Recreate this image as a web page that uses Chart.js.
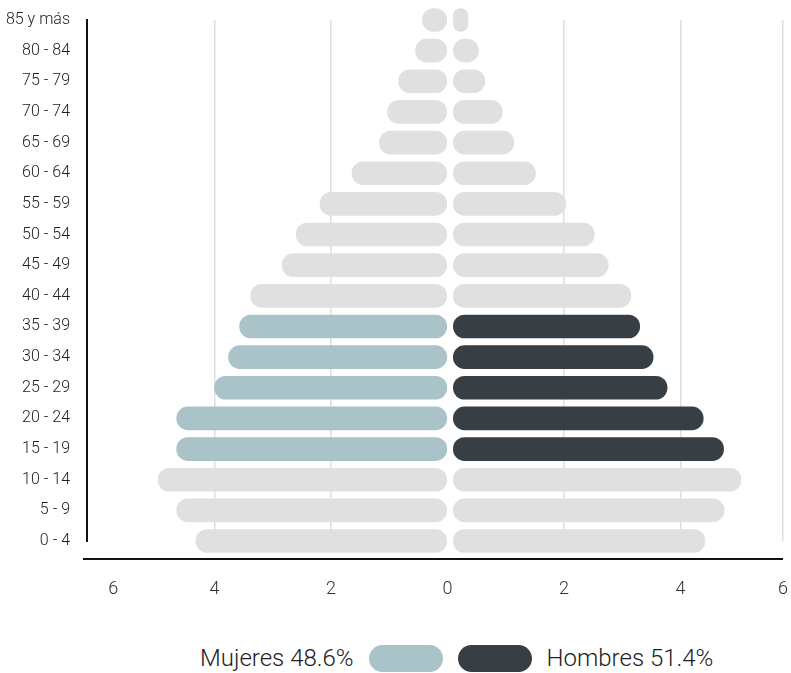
<!DOCTYPE html>
<html>
<head>
<meta charset="utf-8">
<script src="https://cdn.jsdelivr.net/npm/chart.js@4/dist/chart.umd.min.js"></script>
<style>
  html, body { margin: 0; padding: 0; background: #fff; }
  #wrap { position: relative; width: 791px; height: 673px; }
  #box { position: absolute; left: 0; top: 0; width: 791px; height: 625px; }
  #legend {
    position: absolute; left: 200px; top: 644px; height: 28px;
    display: flex; align-items: center; gap: 15px;
    font-family: Roboto, sans-serif; font-weight: 300; font-size: 24px; color: #222;
  }
  #legend .pill { width: 74px; height: 27px; border-radius: 14px; display: inline-block; }
</style>
</head>
<body>
<div id="wrap">
  <div id="box"><canvas id="pyramid"></canvas></div>
  <div id="legend">
    <span>Mujeres 48.6%</span>
    <span class="pill" style="background:#a9c3c9"></span>
    <span class="pill" style="background:#373e44"></span>
    <span>Hombres 51.4%</span>
  </div>
</div>
<script>
// age groups, youngest first
const ageGroups = ['0 - 4', '5 - 9', '10 - 14', '15 - 19', '20 - 24', '25 - 29', '30 - 34',
  '35 - 39', '40 - 44', '45 - 49', '50 - 54', '55 - 59', '60 - 64', '65 - 69',
  '70 - 74', '75 - 79', '80 - 84', '85 y más'];
const mujeres = [4.32, 4.65, 4.97, 4.65, 4.65, 4.0, 3.76, 3.57, 3.38, 2.84, 2.6, 2.19, 1.64, 1.17, 1.03, 0.84, 0.55, 0.43];
const hombres = [4.32, 4.65, 4.94, 4.64, 4.29, 3.67, 3.43, 3.2, 3.05, 2.66, 2.42, 1.93, 1.41, 1.04, 0.84, 0.54, 0.43, 0.25];
const highlightGroups = ['15 - 19', '20 - 24', '25 - 29', '30 - 34', '35 - 39'];
const tickLabels = ['6', '4', '2', '0', '2', '4', '6'];

(function () {
  const grey = '#e0e0e0';
  const colF = ageGroups.map((g) => (highlightGroups.includes(g) ? '#a9c3c9' : grey));
  const colM = ageGroups.map((g) => (highlightGroups.includes(g) ? '#373e44' : grey));

  // bottom axis line sits a bit below the plot
  const axisLine = {
    id: 'axisLine',
    afterDraw(chart) {
      const { ctx, chartArea } = chart;
      ctx.save();
      ctx.strokeStyle = '#111';
      ctx.lineWidth = 2;
      ctx.beginPath();
      ctx.moveTo(chartArea.left - 4, chartArea.bottom + 18);
      ctx.lineTo(chartArea.right, chartArea.bottom + 18);
      ctx.stroke();
      ctx.restore();
    },
  };

  const barOpts = {
    grouped: false,
    barThickness: 23,
    borderRadius: 12,
    borderSkipped: false,
    clip: false,
  };

  new Chart(document.getElementById('pyramid'), {
    type: 'bar',
    data: {
      labels: ageGroups,
      datasets: [
        Object.assign({ label: 'Mujeres', data: mujeres.map((v) => -v), backgroundColor: colF, xAxisID: 'x' }, barOpts),
        Object.assign({ label: 'Hombres', data: hombres, backgroundColor: colM, xAxisID: 'x2' }, barOpts),
      ],
    },
    options: {
      indexAxis: 'y',
      responsive: true,
      maintainAspectRatio: false,
      animation: false,
      layout: { padding: { top: 20, right: 8, left: 0, bottom: 0 } },
      plugins: { legend: { display: false }, tooltip: { enabled: false } },
      scales: {
        y: {
          reverse: true,
          offset: false,
          afterFit: (s) => {
            s.width = 87;
            s.paddingTop = 0;
            s.paddingBottom = 0;
          },
          grid: { display: false, drawTicks: false },
          border: { display: true, color: '#111', width: 2 },
          ticks: {
            padding: 17,
            color: '#222',
            font: { family: 'Roboto', size: 16, weight: '300' },
          },
        },
        x: {
          min: -6.19,
          max: 5.76,
          afterFit: (s) => {
            s.height = 84;
            s.paddingLeft = 0;
            s.paddingRight = 0;
          },
          afterBuildTicks: (s) => {
            s.ticks = [-5.74, -4, -2, 0, 2, 4, 5.76].map((v) => ({ value: v }));
          },
          border: { display: false },
          grid: {
            drawTicks: true,
            tickLength: 36,
            tickColor: 'rgba(0,0,0,0)',
            lineWidth: 1.5,
            color: (c) => (c.index === 0 || c.index === 3 ? 'rgba(0,0,0,0)' : '#dedede'),
          },
          ticks: {
            padding: 2,
            color: '#333',
            maxRotation: 0,
            font: { family: 'Roboto', size: 18, weight: '300' },
            callback: (v, i) => tickLabels[i],
          },
        },
        x2: {
          min: -6.29,
          max: 5.66,
          display: false,
        },
      },
    },
    plugins: [axisLine],
  });
})();
</script>
</body>
</html>
